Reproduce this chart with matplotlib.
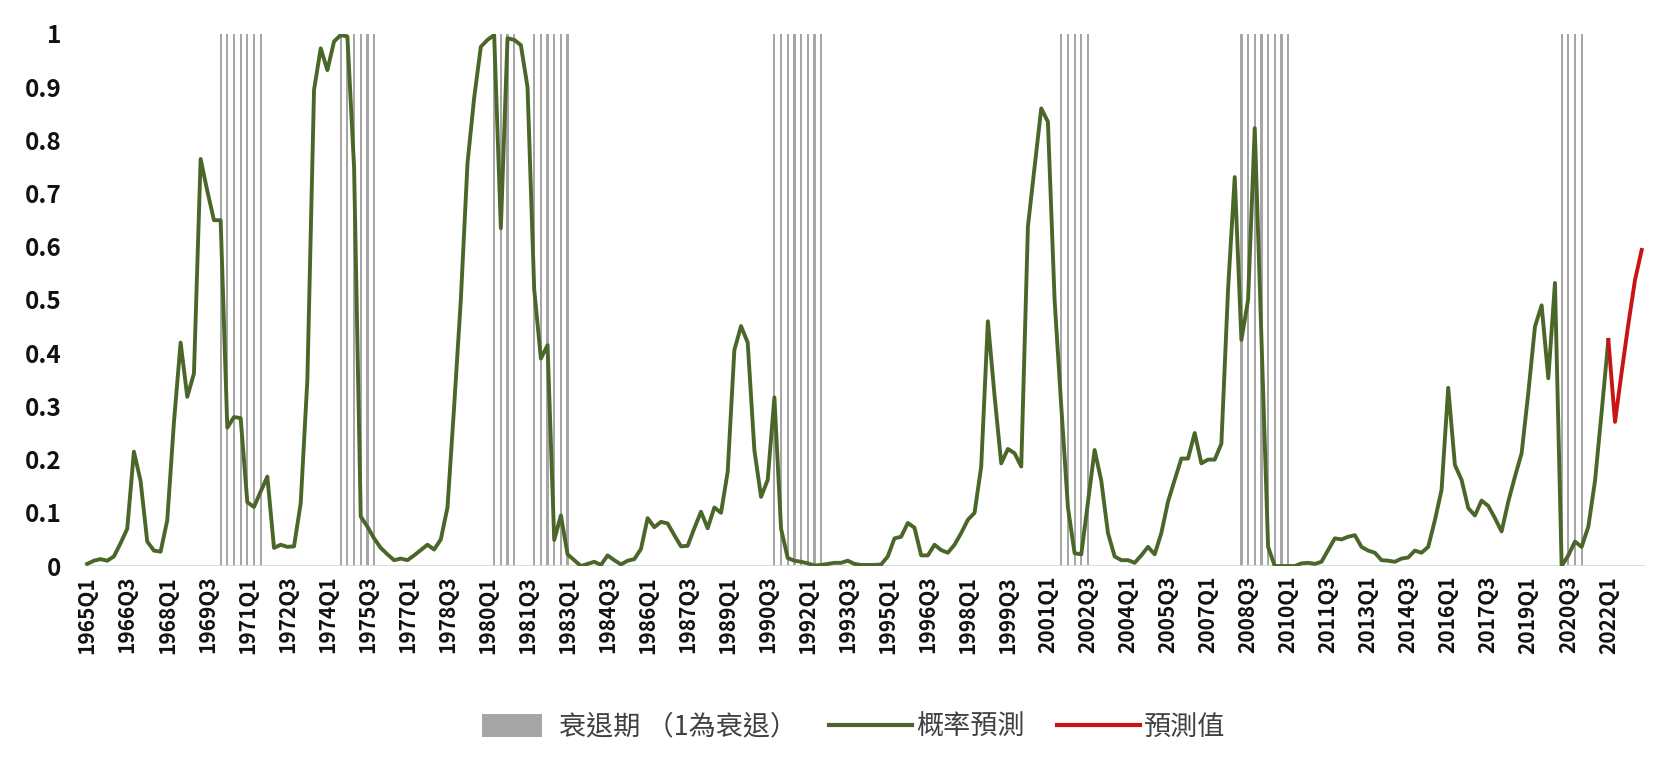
import matplotlib
matplotlib.use("Agg")
import matplotlib.pyplot as plt
from matplotlib.patches import Rectangle
from matplotlib.lines import Line2D
from matplotlib.legend_handler import HandlerPatch

plt.rcParams['font.family'] = ['Noto Sans CJK TC', 'DejaVu Sans']

# ---------------- data ----------------
start_year = 1965
n_quarters = 234          # 1965Q1 .. 2023Q2
quarters = [f"{start_year + i // 4}Q{i % 4 + 1}" for i in range(n_quarters)]

# recession periods (first quarter, last quarter), value 1 = recession
recession_periods = [
    ("1970Q1", "1971Q3"),
    ("1974Q3", "1975Q4"),
    ("1980Q2", "1981Q1"),
    ("1981Q4", "1983Q1"),
    ("1990Q4", "1992Q3"),
    ("2001Q3", "2002Q3"),
    ("2008Q2", "2010Q1"),
    ("2020Q2", "2021Q1"),
]

# probability forecast 1965Q1 .. 2022Q1
prob = [
    0.004, 0.010, 0.013, 0.010, 0.018, 0.043, 0.070, 0.215, 0.160, 0.046,
    0.029, 0.027, 0.086, 0.270, 0.420, 0.318, 0.362, 0.765, 0.705, 0.650,
    0.650, 0.260, 0.280, 0.278, 0.120, 0.111, 0.140, 0.168, 0.034, 0.040,
    0.036, 0.037, 0.118, 0.350, 0.895, 0.973, 0.932, 0.986, 0.998, 0.995,
    0.750, 0.093, 0.074, 0.052, 0.034, 0.022, 0.011, 0.014, 0.011, 0.020,
    0.030, 0.040, 0.031, 0.050, 0.110, 0.300, 0.500, 0.757, 0.880, 0.976,
    0.989, 0.998, 0.635, 0.992, 0.989, 0.979, 0.900, 0.520, 0.390, 0.415,
    0.049, 0.095, 0.022, 0.011, 0.000, 0.004, 0.008, 0.002, 0.020, 0.011,
    0.003, 0.010, 0.013, 0.032, 0.090, 0.073, 0.083, 0.080, 0.058, 0.037,
    0.038, 0.071, 0.102, 0.071, 0.110, 0.100, 0.177, 0.406, 0.451, 0.420,
    0.218, 0.130, 0.162, 0.317, 0.070, 0.015, 0.010, 0.008, 0.005, 0.001,
    0.002, 0.004, 0.006, 0.006, 0.010, 0.004, 0.002, 0.002, 0.002, 0.003,
    0.018, 0.052, 0.055, 0.081, 0.072, 0.020, 0.020, 0.040, 0.030, 0.025,
    0.040, 0.062, 0.087, 0.100, 0.187, 0.460, 0.320, 0.193, 0.220, 0.212,
    0.187, 0.638, 0.750, 0.860, 0.835, 0.500, 0.300, 0.110, 0.024, 0.022,
    0.120, 0.218, 0.160, 0.062, 0.018, 0.011, 0.011, 0.006, 0.020, 0.036,
    0.022, 0.062, 0.121, 0.162, 0.202, 0.202, 0.250, 0.193, 0.200, 0.200,
    0.230, 0.520, 0.731, 0.425, 0.500, 0.823, 0.430, 0.036, 0.000, 0.000,
    0.000, 0.000, 0.005, 0.006, 0.004, 0.008, 0.030, 0.052, 0.050, 0.055,
    0.058, 0.036, 0.029, 0.025, 0.011, 0.010, 0.008, 0.014, 0.016, 0.029,
    0.025, 0.036, 0.086, 0.143, 0.335, 0.190, 0.162, 0.109, 0.095, 0.123,
    0.113, 0.090, 0.065, 0.121, 0.168, 0.212, 0.325, 0.450, 0.490, 0.353,
    0.532, 0.000, 0.020, 0.046, 0.036, 0.074, 0.160, 0.290, 0.425,
]

# forecast values 2022Q1 .. 2023Q2
forecast_start = "2022Q1"
forecast = [0.425, 0.271, 0.365, 0.455, 0.538, 0.594]

tick_labels = quarters[0:229:6]
y_ticks = [0, 0.1, 0.2, 0.3, 0.4, 0.5, 0.6, 0.7, 0.8, 0.9, 1]
y_tick_labels = ["0", "0.1", "0.2", "0.3", "0.4", "0.5", "0.6", "0.7", "0.8", "0.9", "1"]

legend_labels = ["衰退期 （1為衰退）", "概率預測", "預測值"]

# ---------------- derived ----------------
idx = {q: i for i, q in enumerate(quarters)}
recession = [0] * n_quarters
for a, b in recession_periods:
    for i in range(idx[a], idx[b] + 1):
        recession[i] = 1
x_all = list(range(n_quarters))
x_prob = list(range(len(prob)))
f0 = idx[forecast_start]
x_fc = list(range(f0, f0 + len(forecast)))

GRAY = "#a6a6a6"
GREEN = "#4a6729"
RED = "#c81414"

fig = plt.figure(figsize=(16.74, 7.72), dpi=100)
ax = fig.add_axes([0.0501, 0.2668, 0.9326, 0.6892])

ax.bar(x_all, recession, width=0.33, color=GRAY, linewidth=0, zorder=1)
ax.axhline(0, color="#d9d9d9", lw=2, zorder=2)
ax.plot(x_prob, prob, color=GREEN, lw=2.8, solid_joinstyle="round", zorder=3)
ax.plot(x_fc, forecast, color=RED, lw=2.8, solid_joinstyle="round", zorder=4)

ax.set_xlim(-0.5, n_quarters - 0.5)
ax.set_ylim(0, 1)
for s in ax.spines.values():
    s.set_visible(False)

ax.set_yticks(y_ticks)
ax.set_yticklabels(y_tick_labels, fontsize=17.5, fontweight="bold", color="#111111")
ax.set_xticks(list(range(0, 229, 6)))
ax.set_xticklabels(tick_labels, rotation=90, fontsize=15, fontweight="bold",
                   color="#111111")
ax.tick_params(axis="y", length=0, pad=16)
ax.tick_params(axis="x", length=0, pad=7)


class HandlerNarrowPatch(HandlerPatch):
    def create_artists(self, legend, orig_handle, xdescent, ydescent, width,
                       height, fontsize, trans):
        r = Rectangle((-xdescent + 0.12 * width, -ydescent - 0.1 * height),
                      0.73 * width, 1.2 * height, facecolor=GRAY,
                      edgecolor="none", transform=trans)
        return [r]


handles = [
    Rectangle((0, 0), 1, 1, facecolor=GRAY),
    Line2D([0], [0], color=GREEN, lw=3),
    Line2D([0], [0], color=RED, lw=3),
]
leg = fig.legend(handles, legend_labels, loc="center",
                 bbox_to_anchor=(0.507, 0.058), ncol=3, frameon=False,
                 fontsize=19.5, handlelength=3.06, handletextpad=0.15,
                 columnspacing=1.2,
                 handler_map={Rectangle: HandlerNarrowPatch()})
for t in leg.get_texts():
    t.set_color("#404040")

fig.savefig("out.png", dpi=100, facecolor="white")
